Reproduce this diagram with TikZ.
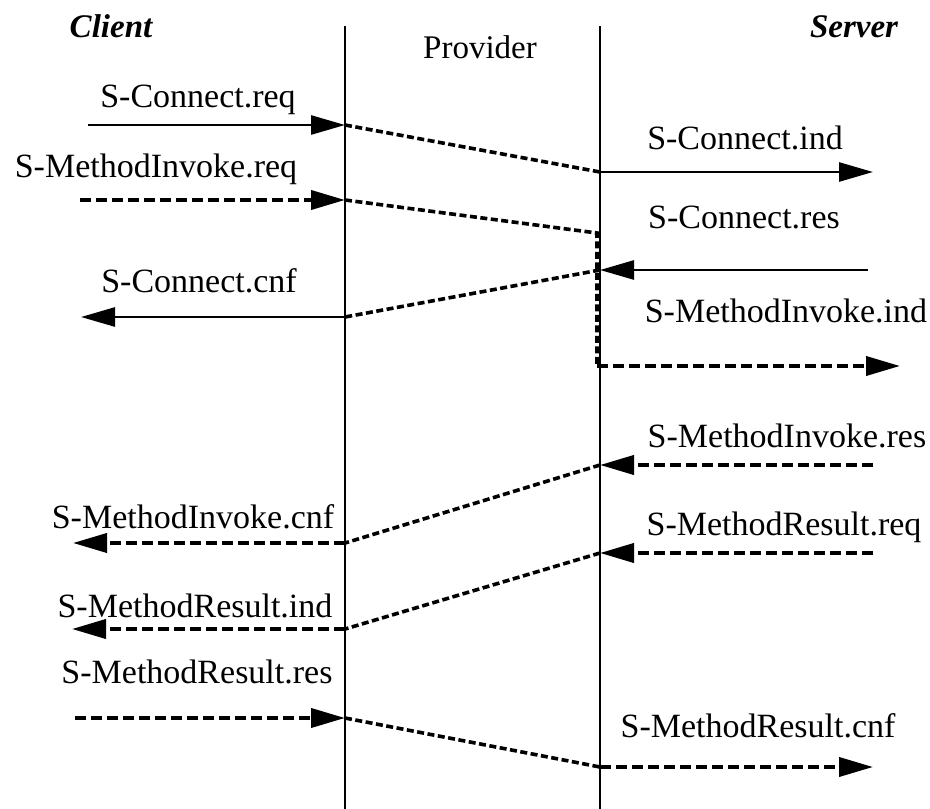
\documentclass[tikz,border=0pt]{standalone}
\usepackage{fontspec}
\setmainfont{Liberation Serif}
\usetikzlibrary{arrows.meta}

\begin{document}
\begin{tikzpicture}[x=1pt,y=-1pt,
  lifeline/.style={line width=1.7pt},
  tip/.style={-{Triangle[length=34pt,width=19pt]}},
  sig/.style={line width=2.7pt,tip},
  dsig/.style={line width=3.8pt,dash pattern=on 11pt off 5pt,tip},
  hop/.style={line width=3.6pt,dash pattern=on 7pt off 3.5pt},
  lbl/.style={font=\fontsize{34}{38}\selectfont,inner sep=0pt,anchor=base},
  head/.style={font=\fontsize{33}{38}\selectfont\bfseries\itshape,inner sep=0pt,anchor=base}]
\useasboundingbox (0,0) rectangle (930,809);

% lifelines
\coordinate (Ltop) at (345,26);  \coordinate (Lbot) at (345,809);
\coordinate (Rtop) at (600,26);  \coordinate (Rbot) at (600,809);
\draw[lifeline] (Ltop) -- (Lbot);
\draw[lifeline] (Rtop) -- (Rbot);

% headings
\node[head] (client) at (111,37) {Client};
\node[lbl,font=\fontsize{33}{38}\selectfont] (provider) at (480,58) {Provider};
\node[head] (server) at (854,37) {Server};

% S-Connect.req -> .ind
\coordinate (a0) at (88,125);
\coordinate (a1) at (345,125);
\coordinate (a2) at (600,172);
\coordinate (a3) at (873,172);
\node[lbl] (creq) at (198,107) {S-Connect.req};
\node[lbl] (cind) at (745,149) {S-Connect.ind};
\draw[sig] (a0) -- (a1);
\draw[hop] (a1) -- (a2);
\draw[sig] (a2) -- (a3);

% S-MethodInvoke.req -> .ind
\coordinate (b0) at (80,200);
\coordinate (b1) at (345,200);
\coordinate (b2) at (597,233);
\coordinate (b3) at (597,366);
\coordinate (b4) at (900,366);
\node[lbl] (mireq) at (156,177) {S-MethodInvoke.req};
\node[lbl] (miind) at (786,322) {S-MethodInvoke.ind};
\draw[dsig] (b0) -- (b1);
\draw[hop] (b1) -- (b2) -- (b3);
\draw[dsig] (b3) -- (b4);

% S-Connect.res -> .cnf
\coordinate (c0) at (868,270);
\coordinate (c1) at (600,270);
\coordinate (c2) at (345,317);
\coordinate (c3) at (81,317);
\node[lbl] (cres) at (744,228) {S-Connect.res};
\node[lbl] (ccnf) at (199,292) {S-Connect.cnf};
\draw[sig] (c0) -- (c1);
\draw[hop] (c1) -- (c2);
\draw[sig] (c2) -- (c3);

% S-MethodInvoke.res -> .cnf
\coordinate (d0) at (873,465);
\coordinate (d1) at (600,465);
\coordinate (d2) at (345,543);
\coordinate (d3) at (73,543);
\node[lbl] (mires) at (787,447) {S-MethodInvoke.res};
\node[lbl] (micnf) at (193,528) {S-MethodInvoke.cnf};
\draw[dsig] (d0) -- (d1);
\draw[hop] (d1) -- (d2);
\draw[dsig] (d2) -- (d3);

% S-MethodResult.req -> .ind
\coordinate (e0) at (873,553);
\coordinate (e1) at (600,553);
\coordinate (e2) at (345,629);
\coordinate (e3) at (72,629);
\node[lbl] (mrreq) at (784,535) {S-MethodResult.req};
\node[lbl] (mrind) at (195,617) {S-MethodResult.ind};
\draw[dsig] (e0) -- (e1);
\draw[hop] (e1) -- (e2);
\draw[dsig] (e2) -- (e3);

% S-MethodResult.res -> .cnf
\coordinate (f0) at (75,718);
\coordinate (f1) at (345,718);
\coordinate (f2) at (600,767);
\coordinate (f3) at (873,767);
\node[lbl] (mrres) at (197,683) {S-MethodResult.res};
\node[lbl] (mrcnf) at (758,737) {S-MethodResult.cnf};
\draw[dsig] (f0) -- (f1);
\draw[hop] (f1) -- (f2);
\draw[dsig] (f2) -- (f3);
\end{tikzpicture}
\end{document}
